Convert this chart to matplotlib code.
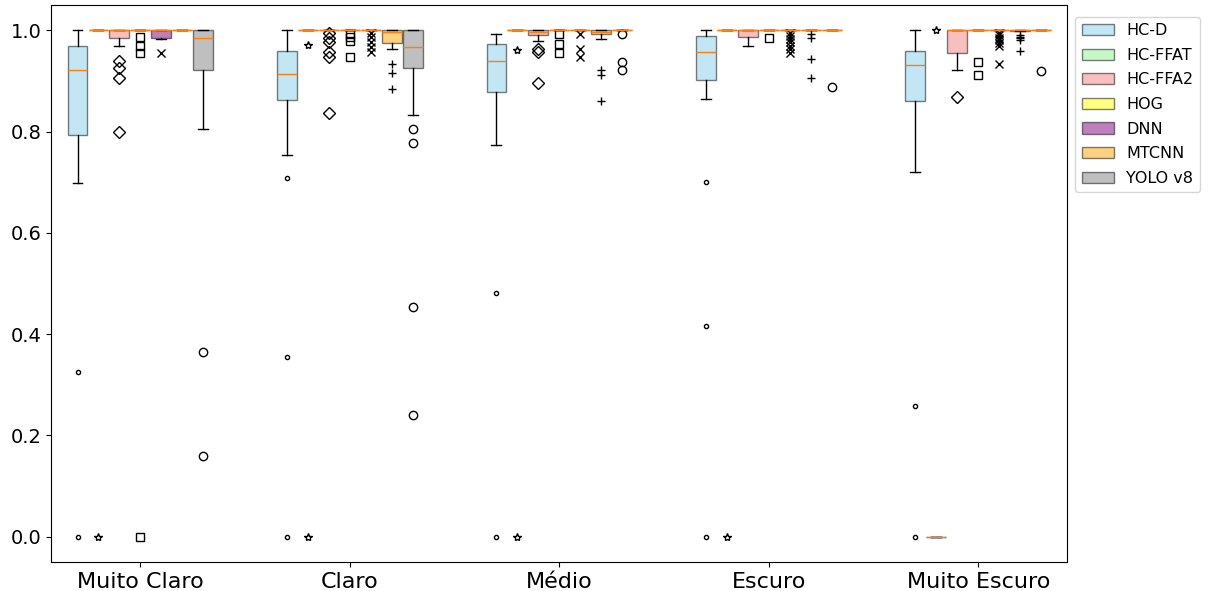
import numpy as np
import matplotlib.pyplot as plt
from matplotlib.patches import Patch

groups = ["Muito Claro", "Claro", "Médio", "Escuro", "Muito Escuro"]
methods = ["HC-D", "HC-FFAT", "HC-FFA2", "HOG", "DNN", "MTCNN", "YOLO v8"]
colors = ["skyblue", "lightgreen", "lightcoral", "yellow", "purple", "orange", "gray"]
flier_markers = [".", "*", "D", "s", "x", "+", "o"]

# per method: values for the five groups
q1 = {
    "HC-D":    [0.794, 0.863, 0.879, 0.901, 0.860],
    "HC-FFAT": [1.0, 1.0, 1.0, 1.0, 0.0],
    "HC-FFA2": [0.985, 1.0, 0.991, 0.987, 0.956],
    "HOG":     [1.0, 1.0, 1.0, 1.0, 1.0],
    "DNN":     [0.985, 1.0, 1.0, 1.0, 1.0],
    "MTCNN":   [1.0, 0.975, 0.992, 1.0, 0.998],
    "YOLO v8": [0.921, 0.926, 1.0, 1.0, 1.0],
}
med = {
    "HC-D":    [0.921, 0.913, 0.939, 0.958, 0.931],
    "HC-FFAT": [1.0, 1.0, 1.0, 1.0, 0.0],
    "HC-FFA2": [1.0, 1.0, 0.997, 1.0, 1.0],
    "HOG":     [1.0, 1.0, 1.0, 1.0, 1.0],
    "DNN":     [1.0, 1.0, 1.0, 1.0, 1.0],
    "MTCNN":   [1.0, 0.997, 0.997, 1.0, 1.0],
    "YOLO v8": [0.985, 0.967, 1.0, 1.0, 1.0],
}
q3 = {
    "HC-D":    [0.969, 0.960, 0.974, 0.989, 0.959],
    "HC-FFAT": [1.0, 1.0, 1.0, 1.0, 0.0],
    "HC-FFA2": [1.0, 1.0, 1.0, 1.0, 1.0],
    "HOG":     [1.0, 1.0, 1.0, 1.0, 1.0],
    "DNN":     [1.0, 1.0, 1.0, 1.0, 1.0],
    "MTCNN":   [1.0, 1.0, 1.0, 1.0, 1.0],
    "YOLO v8": [1.0, 1.0, 1.0, 1.0, 1.0],
}
whislo = {
    "HC-D":    [0.698, 0.753, 0.774, 0.865, 0.720],
    "HC-FFAT": [1.0, 1.0, 1.0, 1.0, 0.0],
    "HC-FFA2": [0.969, 1.0, 0.979, 0.969, 0.921],
    "HOG":     [1.0, 1.0, 1.0, 1.0, 1.0],
    "DNN":     [0.982, 1.0, 1.0, 1.0, 1.0],
    "MTCNN":   [1.0, 0.964, 0.982, 1.0, 0.998],
    "YOLO v8": [0.806, 0.832, 1.0, 1.0, 1.0],
}
whishi = {
    "HC-D":    [1.0, 1.0, 0.992, 1.0, 1.0],
    "HC-FFAT": [1.0, 1.0, 1.0, 1.0, 0.0],
    "HC-FFA2": [1.0, 1.0, 1.0, 1.0, 1.0],
    "HOG":     [1.0, 1.0, 1.0, 1.0, 1.0],
    "DNN":     [1.0, 1.0, 1.0, 1.0, 1.0],
    "MTCNN":   [1.0, 1.0, 1.0, 1.0, 1.0],
    "YOLO v8": [1.0, 1.0, 1.0, 1.0, 1.0],
}
fliers = {
    "HC-D":    [[0.325, 0.0], [0.709, 0.355, 0.0], [0.482, 0.0], [0.700, 0.416, 0.0], [0.258, 0.0]],
    "HC-FFAT": [[0.0], [0.971, 0.0], [0.961, 0.0], [0.0], [1.0]],
    "HC-FFA2": [[0.939, 0.925, 0.905, 0.799],
                [0.994, 0.985, 0.977, 0.957, 0.948, 0.836],
                [0.964, 0.957, 0.896], [], [0.869]],
    "HOG":     [[0.987, 0.970, 0.956, 0.0], [0.993, 0.987, 0.978, 0.948],
                [0.992, 0.974, 0.956], [0.984], [0.937, 0.911]],
    "DNN":     [[0.956], [0.995, 0.987, 0.977, 0.967, 0.957],
                [0.992, 0.964, 0.947],
                [0.995, 0.989, 0.982, 0.976, 0.969, 0.963, 0.956],
                [0.995, 0.990, 0.985, 0.980, 0.975, 0.970, 0.933]],
    "MTCNN":   [[], [0.933, 0.916, 0.885], [0.921, 0.911, 0.861],
                [0.992, 0.984, 0.944, 0.906], [0.990, 0.987, 0.984, 0.981, 0.960]],
    "YOLO v8": [[0.365, 0.159], [0.806, 0.778, 0.454, 0.240],
                [0.992, 0.937, 0.921], [0.888], [0.919]],
}

fig = plt.figure(figsize=(12.08, 5.91), dpi=100)
ax = fig.add_axes([0.0425, 0.049, 0.841, 0.9425])

step = 0.1
for j, m in enumerate(methods):
    stats = []
    for i in range(len(groups)):
        stats.append(dict(med=med[m][i], q1=q1[m][i], q3=q3[m][i],
                          whislo=whislo[m][i], whishi=whishi[m][i],
                          fliers=fliers[m][i]))
    pos = np.arange(len(groups)) + (j - 3) * step
    bp = ax.bxp(stats, positions=pos, widths=0.095, patch_artist=True,
                manage_ticks=False,
                medianprops=dict(color="C1", zorder=3),
                flierprops=dict(marker=flier_markers[j], markerfacecolor="none",
                                markeredgecolor="black"))
    for box in bp["boxes"]:
        box.set_facecolor(colors[j])
        box.set_alpha(0.5)

ax.set_xticks(np.arange(len(groups)))
ax.set_xticklabels(groups, fontsize=16)
ax.tick_params(axis="y", labelsize=14)
ax.set_xlim(-0.425, 4.425)
ax.set_ylim(-0.05, 1.05)

handles = [Patch(facecolor=c, edgecolor="black", alpha=0.5, label=m)
           for m, c in zip(methods, colors)]
ax.legend(handles=handles, loc="upper left", bbox_to_anchor=(1, 0.993),
          fontsize=11.5, labelspacing=0.6)

plt.savefig("out.png", dpi=100)
